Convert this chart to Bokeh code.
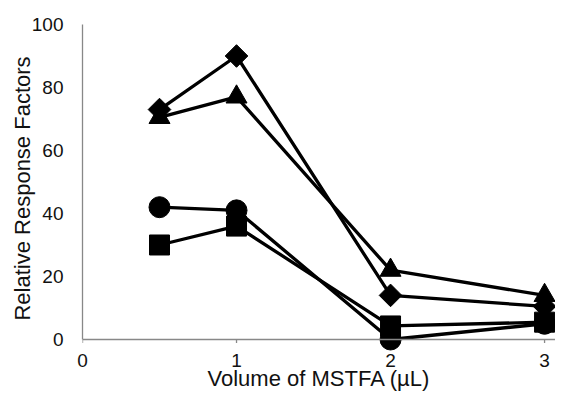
import numpy as np
from bokeh.plotting import figure
from bokeh.models import Range1d, Span, FixedTicker
from bokeh.embed import file_html
from bokeh.resources import INLINE

x_vals = [0.5, 1, 2, 3]
diamond_vals = [73, 90, 14, 10.5]
triangle_vals = [70.5, 77, 22, 14]
circle_vals = [42, 41, 0, 5]
square_vals = [30, 36, 4.3, 5.5]
x_ticks = [0, 1, 2, 3]
y_ticks = [0, 20, 40, 60, 80, 100]

FONT = "Liberation Sans"
GREY = "#888888"

p = figure(width=555, height=396, output_backend="svg", toolbar_location=None,
           x_range=Range1d(0, 3.071), y_range=Range1d(-4.13, 100),
           min_border_left=82, min_border_right=0, min_border_top=24,
           min_border_bottom=44)
p.outline_line_color = None
p.grid.grid_line_color = None
p.background_fill_color = "white"
p.border_fill_color = "white"

# x axis line at y = 0 and its small outward tick marks
p.add_layout(Span(location=0, dimension="width", line_color=GREY, line_width=1.3))
p.segment(x0=x_ticks, y0=[0] * len(x_ticks), x1=x_ticks, y1=[-1.1] * len(x_ticks),
          line_color=GREY, line_width=1.3)

xa = p.xaxis[0]
xa.ticker = FixedTicker(ticks=x_ticks)
xa.axis_line_color = None
xa.major_tick_line_color = None
xa.major_tick_in = 0
xa.major_tick_out = 0
xa.minor_tick_line_color = None
xa.major_label_standoff = 1
xa.major_label_text_font = FONT
xa.major_label_text_font_size = "19px"
xa.major_label_text_color = "#111111"
xa.axis_label = "Volume of MSTFA (µL)"
xa.axis_label_text_font = FONT
xa.axis_label_text_font_size = "22px"
xa.axis_label_text_font_style = "normal"
xa.axis_label_text_color = "#111111"
xa.axis_label_standoff = -4

ya = p.yaxis[0]
ya.ticker = FixedTicker(ticks=y_ticks)
ya.bounds = (0, 100)
ya.axis_line_color = GREY
ya.axis_line_width = 1.3
ya.major_tick_line_color = None
ya.minor_tick_line_color = None
ya.major_tick_in = 0
ya.major_tick_out = 0
ya.major_label_standoff = 19
ya.major_label_text_font = FONT
ya.major_label_text_font_size = "19px"
ya.major_label_text_color = "#111111"
ya.axis_label = "Relative Response Factors"
ya.axis_label_text_font = FONT
ya.axis_label_text_font_size = "22px"
ya.axis_label_text_font_style = "normal"
ya.axis_label_text_color = "#111111"
ya.axis_label_standoff = -6

series = [
    (diamond_vals, "square", 16, np.pi / 4),
    (triangle_vals, "triangle", 21, 0.0),
    (circle_vals, "circle", 21, 0.0),
    (square_vals, "square", 20, 0.0),
]
for vals, _, _, _ in series:
    p.line(x_vals, vals, line_color="black", line_width=3.3)
for vals, marker, size, ang in series:
    p.scatter(x_vals, vals, marker=marker, size=size, angle=ang,
              fill_color="black", line_color="black", line_width=1)

open("out.html", "w").write(file_html(p, INLINE))
